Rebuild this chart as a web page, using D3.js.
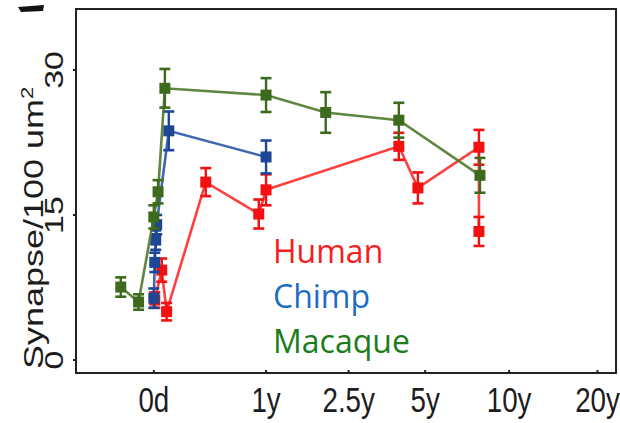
<!DOCTYPE html>
<html>
<head>
<meta charset="utf-8">
<script src="https://cdn.jsdelivr.net/npm/d3@7"></script>
<style>
  body { margin: 0; background: #fff; }
  svg { display: block; }
  .axis-text { font-family: "Liberation Sans", Arial, sans-serif; fill: #1c1c1c; }
  .legend { font-family: "Open Sans", sans-serif; font-size: 32px; }
</style>
</head>
<body>
<div id="chart"></div>
<script>
// ages in days after birth, synapse density per 100 um^2, error half-widths
const xTickAges   = [0, 365, 912, 1825, 3650, 7300]
const xTickLabels = ["0d", "1y", "2.5y", "5y", "10y", "20y"]
const yTicks      = [0, 15, 30]

const humanAge = [2, 17, 28, 132, 331, 365, 1451, 1715, 2860, 2860]
const humanSyn = [6.2, 9.3, 5.0, 18.4, 15.1, 17.6, 22.1, 17.8, 22.0, 13.3]
const humanErr = [0.8, 1.2, 0.9, 1.45, 1.5, 1.6, 1.4, 1.6, 1.8, 1.5]

const chimpAge = [0, 2, 4, 6, 33, 365]
const chimpSyn = [6.4, 10.1, 12.4, 14.0, 23.7, 21.0]
const chimpErr = [1.0, 1.0, 1.0, 1.0, 2.0, 1.7]

const macaqueAge = [-61, -30, 0, 9, 24, 365, 725, 1451, 2884]
const macaqueSyn = [7.55, 6.0, 14.8, 17.4, 28.1, 27.4, 25.6, 24.8, 19.1]
const macaqueErr = [1.0, 0.8, 1.2, 1.2, 2.0, 1.75, 2.1, 1.8, 1.8]

const species = ["Human", "Chimp", "Macaque"]

// age axis is log of days since conception
const gestation = 280

const margin = {left: 76, top: 9}
const width = 540, height = 364

const svg = d3.select("#chart").append("svg")
    .attr("width", 620).attr("height", 423)

// cropped panel letter in the corner
svg.append("path")
    .attr("d", "M18,7 L44,5 L43,11 L21,12 Z")
    .attr("fill", "#111")

const g = svg.append("g").attr("transform", `translate(${margin.left},${margin.top})`)

const x = d3.scaleLog().domain([157, 8700]).range([0, width])
const y = d3.scaleLinear().domain([-1.34, 36.3]).range([height, 0])
const px = age => x(age + gestation)

function series(age, syn, err) {
    return age.map((a, i) => ({age: a, syn: syn[i], err: err[i]}))
}

const groups = [
    {name: "Human",   line: "#ff2a2a", mark: "#f21010", data: series(humanAge, humanSyn, humanErr)},
    {name: "Chimp",   line: "#2a56a6", mark: "#1d4795", data: series(chimpAge, chimpSyn, chimpErr)},
    {name: "Macaque", line: "#4f7a2c", mark: "#3e6a1e", data: series(macaqueAge, macaqueSyn, macaqueErr)}
]

const line = d3.line()
    .x(d => px(d.age))
    .y(d => y(d.syn))

groups.forEach(s => {
    const sg = g.append("g")
    sg.append("path")
        .attr("d", line(s.data))
        .attr("fill", "none")
        .attr("stroke", s.line)
        .attr("stroke-width", 2.6)
        .attr("opacity", 0.9)

    const pt = sg.selectAll(".pt").data(s.data).join("g")
        .attr("transform", d => `translate(${px(d.age)},0)`)
    pt.append("line")
        .attr("y1", d => y(d.syn - d.err)).attr("y2", d => y(d.syn + d.err))
        .attr("stroke", s.mark).attr("stroke-width", 2.4)
    pt.append("line")
        .attr("x1", -5.5).attr("x2", 5.5)
        .attr("y1", d => y(d.syn + d.err)).attr("y2", d => y(d.syn + d.err))
        .attr("stroke", s.mark).attr("stroke-width", 2.6)
    pt.append("line")
        .attr("x1", -5.5).attr("x2", 5.5)
        .attr("y1", d => y(d.syn - d.err)).attr("y2", d => y(d.syn - d.err))
        .attr("stroke", s.mark).attr("stroke-width", 2.6)
    pt.append("rect")
        .attr("x", -5.5).attr("y", d => y(d.syn) - 5.5)
        .attr("width", 11).attr("height", 11)
        .attr("fill", s.mark)
})

// box
g.append("rect")
    .attr("width", width).attr("height", height)
    .attr("fill", "none").attr("stroke", "#222").attr("stroke-width", 2)

// ticks
g.selectAll(".xt").data(xTickAges).join("line")
    .attr("x1", d => px(d)).attr("x2", d => px(d))
    .attr("y1", height).attr("y2", height - 3)
    .attr("stroke", "#222").attr("stroke-width", 2)
g.selectAll(".yt").data(yTicks).join("line")
    .attr("x1", -3).attr("x2", 0)
    .attr("y1", d => y(d)).attr("y2", d => y(d))
    .attr("stroke", "#222").attr("stroke-width", 2)

// x tick labels (squeezed like the source figure)
g.selectAll(".xl").data(xTickAges).join("text")
    .attr("class", "axis-text")
    .attr("transform", d => `translate(${px(d)},${height + 39}) scale(0.77,1)`)
    .attr("text-anchor", "middle")
    .attr("font-size", 36)
    .text((d, i) => xTickLabels[i])

// y tick labels, rotated
g.selectAll(".yl").data(yTicks).join("text")
    .attr("class", "axis-text")
    .attr("transform", d => `translate(-13,${y(d)}) scale(0.74,1) rotate(-90)`)
    .attr("text-anchor", "middle")
    .attr("font-size", 34)
    .text(d => d)

// y axis title
const yt = svg.append("text")
    .attr("class", "axis-text")
    .attr("transform", "translate(43,369) scale(0.78,1) rotate(-90)")
    .attr("font-size", 36)
yt.append("tspan").text("Synapse/100 um")
yt.append("tspan").attr("baseline-shift", "super").attr("font-size", 22).text("2")

// legend
const legendColor = {Human: "#f51d1d", Chimp: "#1e6cc4", Macaque: "#1a7d1a"}
svg.selectAll(".legend").data(species).join("text")
    .attr("class", "legend")
    .attr("x", 273)
    .attr("y", (d, i) => 263 + i * 45)
    .attr("fill", d => legendColor[d])
    .text(d => d)
</script>
</body>
</html>
